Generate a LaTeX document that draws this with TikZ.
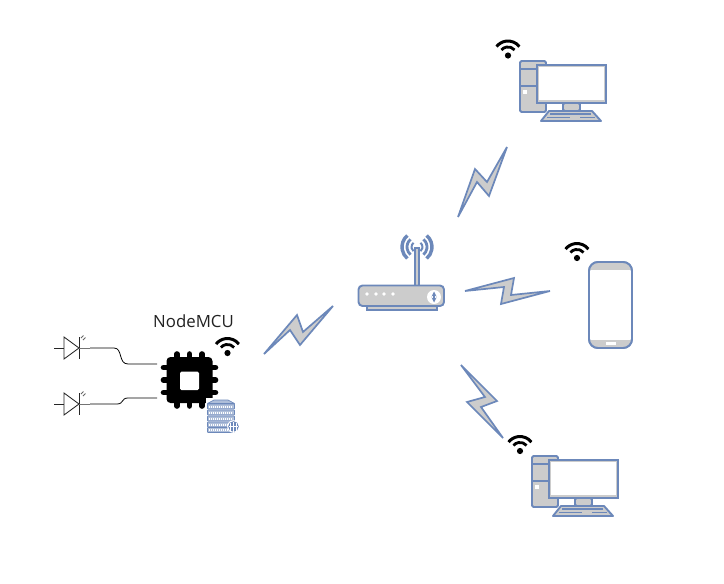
\documentclass[tikz,border=0pt]{standalone}
\usepackage{fontspec}
\setmainfont{Open Sans}
\definecolor{blu}{HTML}{6C88BA}
\definecolor{gry}{HTML}{CCCCCC}
\definecolor{labelink}{HTML}{222222}
\tikzset{
  x=1pt,y=-1pt,
  bolt/.style={draw=blu,fill=gry,line width=1.7pt,line join=miter,miter limit=10},
  shape part/.style={draw=blu,fill=gry,line width=1.9pt,rounded corners=1.5pt},
  wire/.style={draw=black,line width=0.8pt},
  sym/.style={draw=black!85,line width=0.85pt},
  pin/.style={draw=black,line width=5.6pt,line cap=round},
  wifi/.pic={
    \draw[black,line width=3pt] (38:14.5pt) arc (38:142:14.5pt);
    \draw[black,line width=2.8pt] (40:8.6pt) arc (40:140:8.6pt);
    \fill[black] (0,0) circle (3.1pt);
  },
  computer/.pic={
    \draw[shape part] (0,0) rectangle (26,51);
    \draw[blu,line width=1.9pt] (0,8) -- (26,8) (0,25) -- (26,25);
    \fill[white] (3,29) rectangle (6.5,32.5);
    \draw[shape part] (43,42) rectangle (60,50);
    \draw[shape part,rounded corners=0pt,line join=round] (29,50) -- (72,50) -- (81,60) -- (21,60) -- cycle;
    \draw[blu,line width=1.1pt] (30,53) -- (71,53) (27,56.5) -- (50,56.5) (60,56.5) -- (75,56.5);
    \draw[draw=blu,fill=gry,line width=1.9pt] (17,4) rectangle (86,42);
    \fill[white] (19,6) rectangle (84,39);
  },
  rowbar/.style={draw=blu,fill=blu!55,line width=0.7pt,rounded corners=0.6pt},
  rowdash/.style={draw=white,line width=2pt,dash pattern=on 1.1pt off 0.9pt},
}
\begin{document}
\begin{tikzpicture}
\useasboundingbox (0,0) rectangle (724,584);
\fill[white] (0,0) rectangle (724,584);

% Lightning bolts
\draw[bolt] (264,354) -- (297,315) -- (303,332) -- (333,306) -- (300,345) -- (290,330) -- cycle;
\draw[bolt] (458,217) -- (475,169) -- (487,182) -- (507,147) -- (489,196) -- (477,182) -- cycle;
\draw[bolt] (465,291) -- (514,278) -- (511,295) -- (550,291) -- (501,304) -- (504,287) -- cycle;
\draw[bolt] (461,365) -- (497,401) -- (481,407) -- (503,438) -- (467,402) -- (485,397) -- cycle;

% Computers
\pic at (520,61) {computer};
\pic at (532,456) {computer};

% Wifi marks
\pic at (508,55.5) {wifi};
\pic at (577,258) {wifi};
\pic at (520,451) {wifi};
\pic at (227.5,353) {wifi};

% Phone
\draw[draw=blu,fill=white,line width=1.9pt,rounded corners=9pt] (589,262) rectangle (632,348);
\begin{scope}
  \clip[rounded corners=9pt] (589,262) rectangle (632,348);
  \fill[gry] (589,262) rectangle (632,270);
  \fill[gry] (589,340) rectangle (632,348);
\end{scope}
\fill[white] (606,342) rectangle (616,345);
\draw[draw=blu,line width=1.9pt,rounded corners=9pt] (589,262) rectangle (632,348);

% Router
\draw[draw=blu,fill=gry,line width=1.2pt] (367,306) rectangle (437,310);
\draw[draw=blu,fill=gry,line width=1.3pt] (415,248) rectangle (419,287);
\draw[draw=blu,fill=gry,line width=1.9pt,rounded corners=4pt] (358.5,285.5) rectangle (444,306);
\foreach \dx in {367,376,384,393} \fill[white] (\dx,294) circle (1.8pt);
\fill[white] (434,297) circle (7pt);
\draw[blu,line width=1.2pt,<->,>=stealth] (434,291.5) -- (434,302.5);
\begin{scope}[shift={(417,247)}]
  \foreach \r/\w in {15/3.4,10/2.8,5.5/2} {
    \draw[blu,line width=\w pt] (130:\r pt) arc (130:230:\r pt);
    \draw[blu,line width=\w pt] (50:\r pt) arc (50:-50:\r pt);
  }
\end{scope}

% Chip
\node[fill=black,rounded corners=4pt,minimum width=46pt,minimum height=46pt,inner sep=0pt] (chip) at (189.5,380) {};
\foreach \o in {-12.5,0,12.5} {
  \draw[pin] (189.5+\o,354) -- (189.5+\o,362);
  \draw[pin] (189.5+\o,398) -- (189.5+\o,406);
  \draw[pin] (163.5,380+\o) -- (171,380+\o);
  \draw[pin] (208,380+\o) -- (215.5,380+\o);
}
\fill[white,rounded corners=1.5pt] (180,371.5) rectangle (199,390);

% Database
\fill[white] (205.5,397.5) rectangle (240,433);
\draw[draw=blu,fill=blu!55,line width=0.7pt,line join=round] (207.5,403.5) -- (214,400) -- (228,400) -- (234.5,403.5) -- cycle;
\foreach \ry in {404,410,416,422,427.5} {
  \draw[rowbar] (207.5,\ry) rectangle (234.5,\ry+5);
  \draw[rowdash] (209,\ry+2.5) -- (233,\ry+2.5);
}
\fill[white] (233.5,426.5) circle (6.3pt);
\fill[blu] (233.5,426.5) circle (5.3pt);
\draw[white,line width=0.4pt] (230.5,422.5) -- (230.5,430.5) (233.5,421.5) -- (233.5,431.5) (236.5,422.5) -- (236.5,430.5) (229,426.5) -- (238,426.5);

% Label
\node[inner sep=0pt,font=\fontsize{16.8}{20}\selectfont,text=labelink] (label) at (193.5,321) {NodeMCU};

% LEDs
\foreach \n/\yy in {a/348,b/404} {
  \draw[sym] (54,\yy) -- (64,\yy);
  \draw[sym] (64,\yy-11) -- (64,\yy+11) -- (79,\yy) -- cycle;
  \draw[sym] (79,\yy-11) -- (79,\yy+11);
  \draw[sym,draw=black!55] (79,\yy) -- (90,\yy);
  \draw[black!60,line width=0.8pt] (81,\yy-10) -- (83.5,\yy-12.5) (83,\yy-8) -- (85.5,\yy-10.5);
  \coordinate (led\n) at (90,\yy);
}
\coordinate (ina) at (157,364);
\coordinate (inb) at (157,398);
\draw[wire] (leda) -- (114,348) .. controls (123,348) and (118,364) .. (128,364) -- (ina);
\draw[wire] (ledb) -- (117,404) .. controls (124,404) and (121,398) .. (128,398) -- (inb);
\end{tikzpicture}
\end{document}
